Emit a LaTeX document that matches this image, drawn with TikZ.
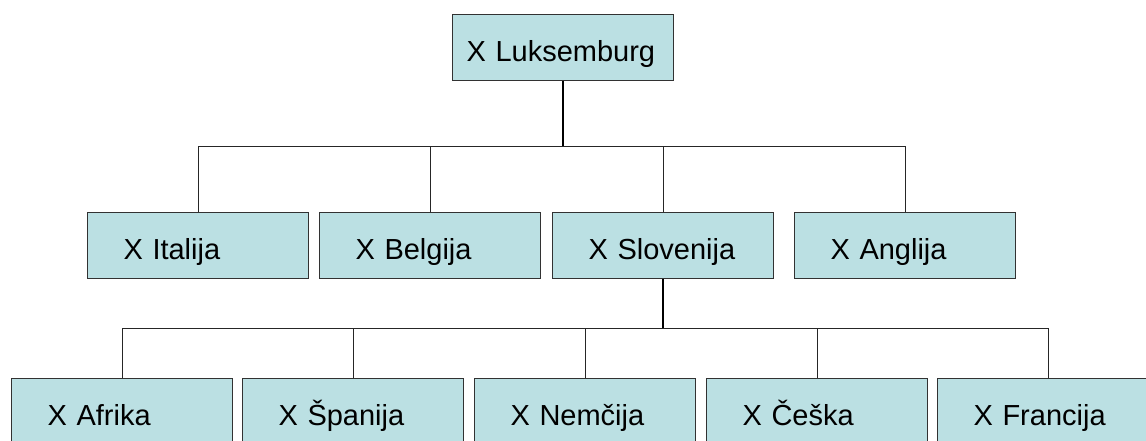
\documentclass[tikz,border=0pt]{standalone}
\usepackage{fontspec}
\setmainfont{Liberation Sans}
\definecolor{boxfill}{RGB}{187,224,227}
\definecolor{boxline}{RGB}{50,50,50}
\tikzset{
  orgbox/.style={draw=boxline, line width=1pt, fill=boxfill, rectangle, anchor=north west,
    minimum height=66pt, inner ysep=0pt, inner xsep=36pt, text width=149pt, align=left,
    text height=35pt, text depth=7pt, font=\fontsize{29}{32}\selectfont},
  thinconn/.style={draw=black!85, line width=1pt},
  thickconn/.style={draw=black, line width=2pt},
}
\begin{document}
\begin{tikzpicture}[x=1pt,y=-1pt]
\path[use as bounding box, clip] (0,0) rectangle (1146,440);
\fill[white] (0,0) rectangle (1146,440);
% top
\node[orgbox, inner xsep=14pt, text width=193pt] (lux) at (452,14) {X Luksemburg};
% second row
\node[orgbox] (ita) at (87,212) {X Italija};
\node[orgbox] (bel) at (319,212) {X Belgija};
\node[orgbox] (slo) at (552,212) {X Slovenija};
\node[orgbox] (ang) at (794,212) {X Anglija};
% third row
\node[orgbox] (afr) at (11,378) {X Afrika};
\node[orgbox] (spa) at (242,378) {X Španija};
\node[orgbox] (nem) at (474,378) {X Nemčija};
\node[orgbox] (ces) at (706,378) {X Češka};
\node[orgbox] (fra) at (937,378) {X Francija};
% bus coordinates
\coordinate (bus1) at (0,146);
\coordinate (bus2) at (0,328);
% connectors level 1
\draw[thickconn] (lux.south) -- (lux.south |- bus1);
\draw[thinconn] (ita.north) |- (lux.south |- bus1);
\draw[thinconn] (bel.north) -- (bel.north |- bus1);
\draw[thinconn] (slo.north) -- (slo.north |- bus1);
\draw[thinconn] (ang.north) |- (lux.south |- bus1);
% connectors level 2
\draw[thickconn] (slo.south) -- (slo.south |- bus2);
\draw[thinconn] (afr.north) |- (slo.south |- bus2);
\draw[thinconn] (spa.north) -- (spa.north |- bus2);
\draw[thinconn] (nem.north) -- (nem.north |- bus2);
\draw[thinconn] (ces.north) -- (ces.north |- bus2);
\draw[thinconn] (fra.north) |- (slo.south |- bus2);
\end{tikzpicture}
\end{document}
